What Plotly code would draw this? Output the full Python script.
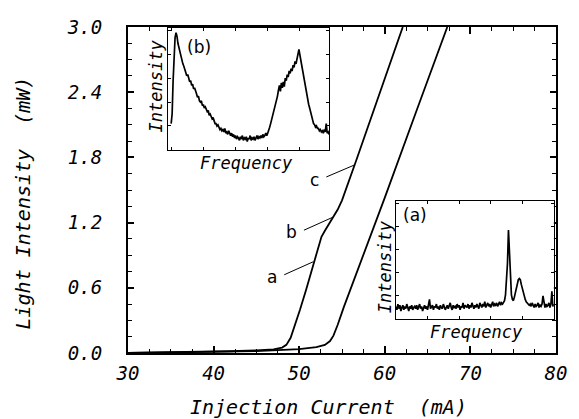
import plotly.graph_objects as go

# Light-current characteristics (mA -> mW)
cur_left = [30, 34, 38, 42, 45, 47, 48, 48.5, 49.0, 49.5, 50.1, 50.8, 51.7, 52.3, 52.6, 53.0, 54.5, 55.0, 56.7, 62.1]
pow_left = [0.0, 0.004, 0.009, 0.016, 0.024, 0.033, 0.05, 0.075, 0.14, 0.25, 0.40, 0.58, 0.83, 1.0, 1.07, 1.125, 1.32, 1.405, 1.78, 3.0]

cur_right = [30, 35, 40, 45, 50, 52, 53, 53.6, 54.0, 54.5, 55.2, 56.4, 60.0, 63.8, 67.3]
pow_right = [0.0, 0.004, 0.009, 0.018, 0.035, 0.055, 0.075, 0.11, 0.16, 0.26, 0.42, 0.67, 1.43, 2.25, 3.0]

# Inset (a): RF spectrum, one value per channel
spec_a = [
    11, 8, 13, 9, 12, 7, 10, 12, 8, 11, 9, 13, 10, 7, 11, 9, 12, 8, 10, 11,
    9, 12, 8, 10, 13, 9, 11, 7, 10, 12, 9, 11, 8, 12, 17, 9, 10, 12, 8, 11,
    10, 13, 9, 11, 8, 12, 10, 9, 13, 11, 8, 10, 12, 9, 11, 14, 10, 8, 12, 10,
    11, 9, 13, 10, 12, 8, 11, 10, 14, 9, 12, 11, 10, 13, 9, 12, 10, 14, 11, 9,
    12, 10, 13, 11, 9, 14, 12, 10, 13, 11, 15, 10, 12, 14, 11, 13, 10, 12, 15, 11,
    13, 12, 14, 11, 13, 15, 12, 14, 13,
    14, 16, 21, 35, 48, 77, 60, 30, 21, 17, 16, 19,
    23, 27, 31, 34, 35, 34, 30, 26, 22, 19, 17, 15, 14, 13, 12,
    13, 11, 14, 12, 10, 13, 11, 12, 14, 10, 12, 11, 13, 20, 12, 10, 13, 11, 12, 14,
    10, 13, 24, 11, 13,
]

# Inset (b): RF spectrum, one value per channel
spec_b = [
    22, 30, 58, 82, 94, 98, 95, 89, 85, 81, 79, 75, 72, 70, 67, 65, 62, 63, 59, 57,
    58, 54, 55, 51, 52, 48, 47, 44, 45, 41, 40, 41, 37, 38, 35, 36, 33, 32, 33, 29,
    30, 28, 26, 27, 24, 22, 22, 20, 21, 19, 17, 18, 16, 17, 15, 18, 14, 15, 13, 16,
    13, 12, 14, 11, 13, 10, 12, 9, 11, 10, 8, 11, 9, 12, 8, 10, 9, 11, 7, 10,
    9, 12, 8, 10, 9, 11, 8, 10, 12, 9, 11, 10, 12, 10, 13, 11, 12, 14, 12, 14,
    16, 19, 22, 25, 28, 32, 35, 38, 42, 45, 50, 54, 49, 56, 52, 57, 53, 60, 58, 63,
    61, 66, 64, 68, 66, 71, 69, 74, 72, 78, 80, 84, 79, 74, 70, 66, 61, 56, 51, 47,
    42, 38, 35, 31, 27, 24, 22, 21, 19, 20, 18, 18, 16, 17, 15, 16, 14, 17, 15, 22,
    14, 15, 13, 16, 14,
]

x_ticks = [30, 40, 50, 60, 70, 80]
y_ticks = [0.0, 0.6, 1.2, 1.8, 2.4, 3.0]

MONO = "DejaVu Sans Mono"
SANS = "DejaVu Sans"

fig = go.Figure()
line_style = dict(color="black", width=1.8)
fig.add_trace(go.Scatter(x=cur_left, y=pow_left, mode="lines", line=line_style, showlegend=False))
fig.add_trace(go.Scatter(x=cur_right, y=pow_right, mode="lines", line=line_style, showlegend=False))

fig.add_trace(go.Scatter(x=list(range(len(spec_b))), y=spec_b, mode="lines",
                         line=dict(color="black", width=1.7), xaxis="x2", yaxis="y2", showlegend=False))
fig.add_trace(go.Scatter(x=list(range(len(spec_a))), y=spec_a, mode="lines",
                         line=dict(color="black", width=1.7), xaxis="x3", yaxis="y3", showlegend=False))

tick_font = dict(family=MONO, size=19, color="black", style="italic")

fig.update_layout(
    width=579, height=419,
    margin=dict(l=128, r=15, t=27, b=66),
    paper_bgcolor="white", plot_bgcolor="white",
    xaxis=dict(range=[30, 80], tickvals=x_ticks, ticktext=[str(v) for v in x_ticks],
               ticks="inside", ticklen=7, tickwidth=1.5, tickcolor="black",
               minor=dict(dtick=2.5, tick0=30, ticks="inside", ticklen=4, tickwidth=1.2, tickcolor="black"),
               showline=True, linewidth=2, linecolor="black", mirror="ticks",
               showgrid=False, zeroline=False, tickfont=tick_font, ticklabelstandoff=2),
    yaxis=dict(range=[0, 3.0], tickvals=y_ticks, ticktext=[f"{v:.1f}" for v in y_ticks],
               ticks="inside", ticklen=6, tickwidth=1.5, tickcolor="black",
               minor=dict(dtick=0.15, tick0=0, ticks="inside", ticklen=4, tickwidth=1.2, tickcolor="black"),
               showline=True, linewidth=2, linecolor="black", mirror="ticks",
               showgrid=False, zeroline=False, tickfont=tick_font, ticklabelstandoff=20),
)

inset_axis = dict(showline=True, linewidth=1.3, linecolor="black", mirror="ticks",
                  ticks="inside", ticklen=3, tickwidth=1, tickcolor="black",
                  showticklabels=False, showgrid=False, zeroline=False)

fig.update_layout(
    xaxis2=dict(domain=[0.094, 0.470], range=[-3, 162], dtick=33, anchor="y2", **inset_axis),
    yaxis2=dict(domain=[0.623, 0.997], range=[0, 102], dtick=20, anchor="x2", **inset_axis),
    xaxis3=dict(domain=[0.626, 0.995], range=[0, 160], dtick=32, anchor="y3", **inset_axis),
    yaxis3=dict(domain=[0.104, 0.466], range=[0, 102], dtick=20, anchor="x3", **inset_axis),
)

label_font = dict(family=MONO, size=20, color="black", style="italic")
inset_font = dict(family=MONO, size=17, color="black", style="italic")
tag_font = dict(family=SANS, size=17, color="black")

annotations = [
    dict(text="Injection Current  (mA)", x=0.468, y=-0.165, font=label_font),
    dict(text="Light Intensity  (mW)", x=-0.245, y=0.459, textangle=-90, font=label_font),
    dict(text="Intensity", x=0.0665, y=0.819, textangle=-90, font=inset_font),
    dict(text="Frequency", x=0.2775, y=0.583, font=inset_font),
    dict(text="(b)", x=0.165, y=0.939, font=tag_font),
    dict(text="Intensity", x=0.601, y=0.264, textangle=-90, font=inset_font),
    dict(text="Frequency", x=0.814, y=0.0644, font=inset_font),
    dict(text="(a)", x=0.670, y=0.423, font=tag_font),
]
for a in annotations:
    fig.add_annotation(xref="paper", yref="paper", showarrow=False,
                       xanchor="center", yanchor="middle", **a)

# Curve tags with leader lines
curve_tags = [
    ("a", (46.86, 0.70), (48.25, 0.72), (51.65, 0.84)),
    ("b", (49.15, 1.113), (50.55, 1.13), (53.95, 1.25)),
    ("c", (51.79, 1.59), (53.17, 1.62), (56.45, 1.73)),
]
for tag, pos, p0, p1 in curve_tags:
    fig.add_annotation(x=pos[0], y=pos[1], xref="x", yref="y", text=tag, showarrow=False,
                       font=tag_font, xanchor="center", yanchor="middle")
    fig.add_shape(type="line", xref="x", yref="y", x0=p0[0], y0=p0[1], x1=p1[0], y1=p1[1],
                  line=dict(color="black", width=1))

fig.write_html("out.html")
